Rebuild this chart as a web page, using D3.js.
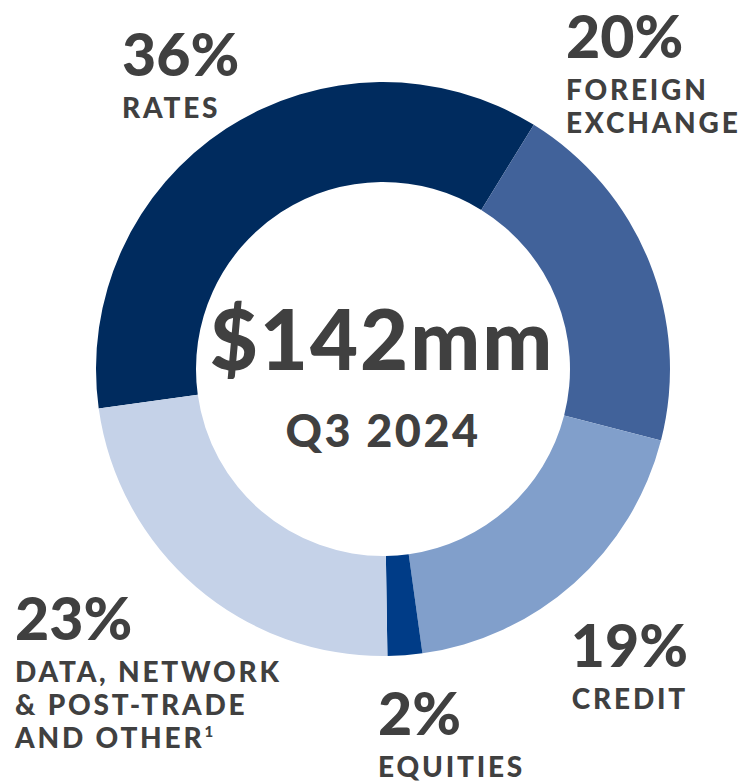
<!DOCTYPE html>
<html>
<head>
<meta charset="utf-8">
<script src="https://cdn.jsdelivr.net/npm/d3@7"></script>
<style>
  html, body { margin: 0; padding: 0; background: #ffffff; }
  svg { display: block; }
  text { font-family: "Lato", "Open Sans", sans-serif; fill: #404040; }
</style>
</head>
<body>
<svg id="chart" width="746" height="782"></svg>
<script>
// ---- data ----
const categories = ["Rates", "Foreign Exchange", "Credit", "Equities", "Data, Network & Post-Trade and Other"];
const shares = [36.0, 20.2, 18.8, 1.95, 23.05];          // share of revenue (%)
const percentLabels = ["36%", "20%", "19%", "2%", "23%"];
const nameLabels = [["RATES"], ["FOREIGN", "EXCHANGE"], ["CREDIT"], ["EQUITIES"], ["DATA, NETWORK", "& POST-TRADE", "AND OTHER"]];
const footnotes = ["", "", "", "", "1"];
const colors = ["#002b5e", "#41629a", "#819fcb", "#003c87", "#c5d2e8"];
const totalLabel = "$142mm";
const periodLabel = "Q3 2024";

// ---- layout ----
const svg = d3.select("#chart");
const cx = 383, cy = 369, outerR = 287, innerR = 187;
const startDeg = -97.9;

const pie = d3.pie().sort(null).value(d => d)
  .startAngle(startDeg * Math.PI / 180)
  .endAngle(startDeg * Math.PI / 180 + 2 * Math.PI);
const arc = d3.arc().innerRadius(innerR).outerRadius(outerR);
const color = d3.scaleOrdinal().domain(categories).range(colors);

const g = svg.append("g").attr("transform", `translate(${cx},${cy})`);
g.selectAll("path").data(pie(shares)).join("path")
  .attr("d", arc)
  .attr("fill", (d, i) => color(categories[i]));

// center text
g.append("text").attr("text-anchor", "middle").attr("x", -1).attr("y", 1)
  .style("font-size", "83px").style("font-weight", 900).style("letter-spacing", "2px")
  .text(totalLabel);
g.append("text").attr("text-anchor", "middle").attr("x", 0).attr("y", 78)
  .style("font-size", "45px").style("font-weight", 900).style("letter-spacing", "2.5px")
  .text(periodLabel);

// outside labels: [x, baseline of percent, anchor]
const labelPos = [
  [122, 76, "start"],
  [566, 58, "start"],
  [688, 667, "end"],
  [378, 735, "start"],
  [15, 640, "start"]
];
const pctSize = 59, nameSize = 28, firstGap = 42, lineGap = 33;

categories.forEach((c, i) => {
  const [x, y, anchor] = labelPos[i];
  svg.append("text").attr("x", x).attr("y", y).attr("text-anchor", anchor)
    .style("font-size", pctSize + "px").style("font-weight", 900)
    .text(percentLabels[i]);
  nameLabels[i].forEach((line, j) => {
    const t = svg.append("text").attr("x", x).attr("y", y + firstGap + j * lineGap)
      .attr("text-anchor", anchor)
      .style("font-size", nameSize + "px").style("font-weight", 900)
      .style("letter-spacing", "2.8px")
      .text(line);
    if (j === nameLabels[i].length - 1 && footnotes[i]) {
      t.append("tspan").attr("dy", -11).style("font-size", "15px").text(footnotes[i]);
    }
  });
});
</script>
</body>
</html>
